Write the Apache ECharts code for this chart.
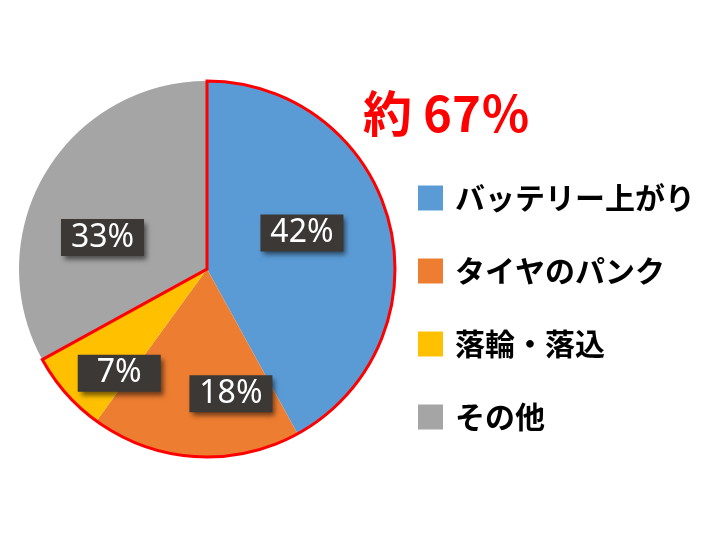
<!DOCTYPE html>
<html>
<head>
<meta charset="utf-8">
<script src="https://cdn.jsdelivr.net/npm/echarts@6/dist/echarts.min.js"></script>
<style>
  html, body { margin: 0; padding: 0; background: #fff; }
  #container { width: 710px; height: 533px; }
</style>
</head>
<body>
<div id="container"></div>
<script>
// 故障の内訳
var causes = ['バッテリー上がり', 'タイヤのパンク', '落輪・落込', 'その他'];
var shares = [42, 18, 7, 33];
var colors = ['#5B9BD5', '#ED7D31', '#FFC000', '#A5A5A5'];
// 赤枠で囲む項目 (先頭から3つ)
var highlightCount = 3;

// ラベルの微調整 (Excel で手動配置されていた分)
var labelNudge = [[1, -12], [30, 28], [-15, 40], [-21, 18]];

var dom = document.getElementById('container');
var myChart = echarts.init(dom);

var pieData = [];
for (var i = 0; i < causes.length; i++) {
    pieData.push({
        name: causes[i],
        value: shares[i],
        itemStyle: { color: colors[i] },
        label: { offset: labelNudge[i] }
    });
}

var inside = 0, outside = 0;
for (var j = 0; j < shares.length; j++) {
    if (j < highlightCount) { inside += shares[j]; } else { outside += shares[j]; }
}

var option = {
    backgroundColor: '#fff',
    animation: false,
    title: {
        text: '約 ' + inside + '％',
        left: 358,
        top: 84,
        textStyle: {
            color: '#FF0000',
            fontSize: 49,
            fontWeight: 'bold',
            fontFamily: 'Noto Sans CJK JP'
        }
    },
    legend: {
        data: causes,
        orient: 'vertical',
        left: 418,
        top: 183,
        padding: 0,
        icon: 'rect',
        itemWidth: 25,
        itemHeight: 25,
        itemGap: 43,
        selectedMode: false,
        textStyle: {
            color: '#000',
            fontSize: 30,
            fontWeight: 'bold',
            fontFamily: 'Noto Sans CJK JP',
            lineHeight: 25,
            padding: [0, 0, 0, 7]
        }
    },
    series: [{
        name: '故障',
        type: 'pie',
        center: [207, 269],
        radius: 188,
        startAngle: 90,
        clockwise: true,
        avoidLabelOverlap: false,
        silent: true,
        itemStyle: { borderWidth: 0 },
        label: {
            show: true,
            position: 'inside',
            formatter: '{c}%',
            color: '#fff',
            fontSize: 32,
            fontFamily: 'Noto Sans',
            backgroundColor: '#3B3835',
            width: 71,
            height: 37,
            lineHeight: 37,
            align: 'center',
            padding: [0, 6],
            shadowColor: 'rgba(0,0,0,0.55)',
            shadowBlur: 5,
            shadowOffsetX: 3,
            shadowOffsetY: 4
        },
        labelLine: { show: false },
        data: pieData
    }, {
        name: '枠',
        type: 'pie',
        center: [207, 269],
        radius: 188,
        startAngle: 90,
        clockwise: true,
        silent: true,
        z: 3,
        label: { show: false },
        labelLine: { show: false },
        data: [{
            name: '枠内',
            value: inside,
            itemStyle: { color: 'rgba(0,0,0,0)', borderColor: '#FF0000', borderWidth: 3, borderJoin: 'miter' }
        }, {
            name: '枠外',
            value: outside,
            itemStyle: { color: 'rgba(0,0,0,0)', borderWidth: 0 }
        }]
    }]
};

if (option && typeof option === "object") {
    myChart.setOption(option, true);
}
</script>
</body>
</html>
